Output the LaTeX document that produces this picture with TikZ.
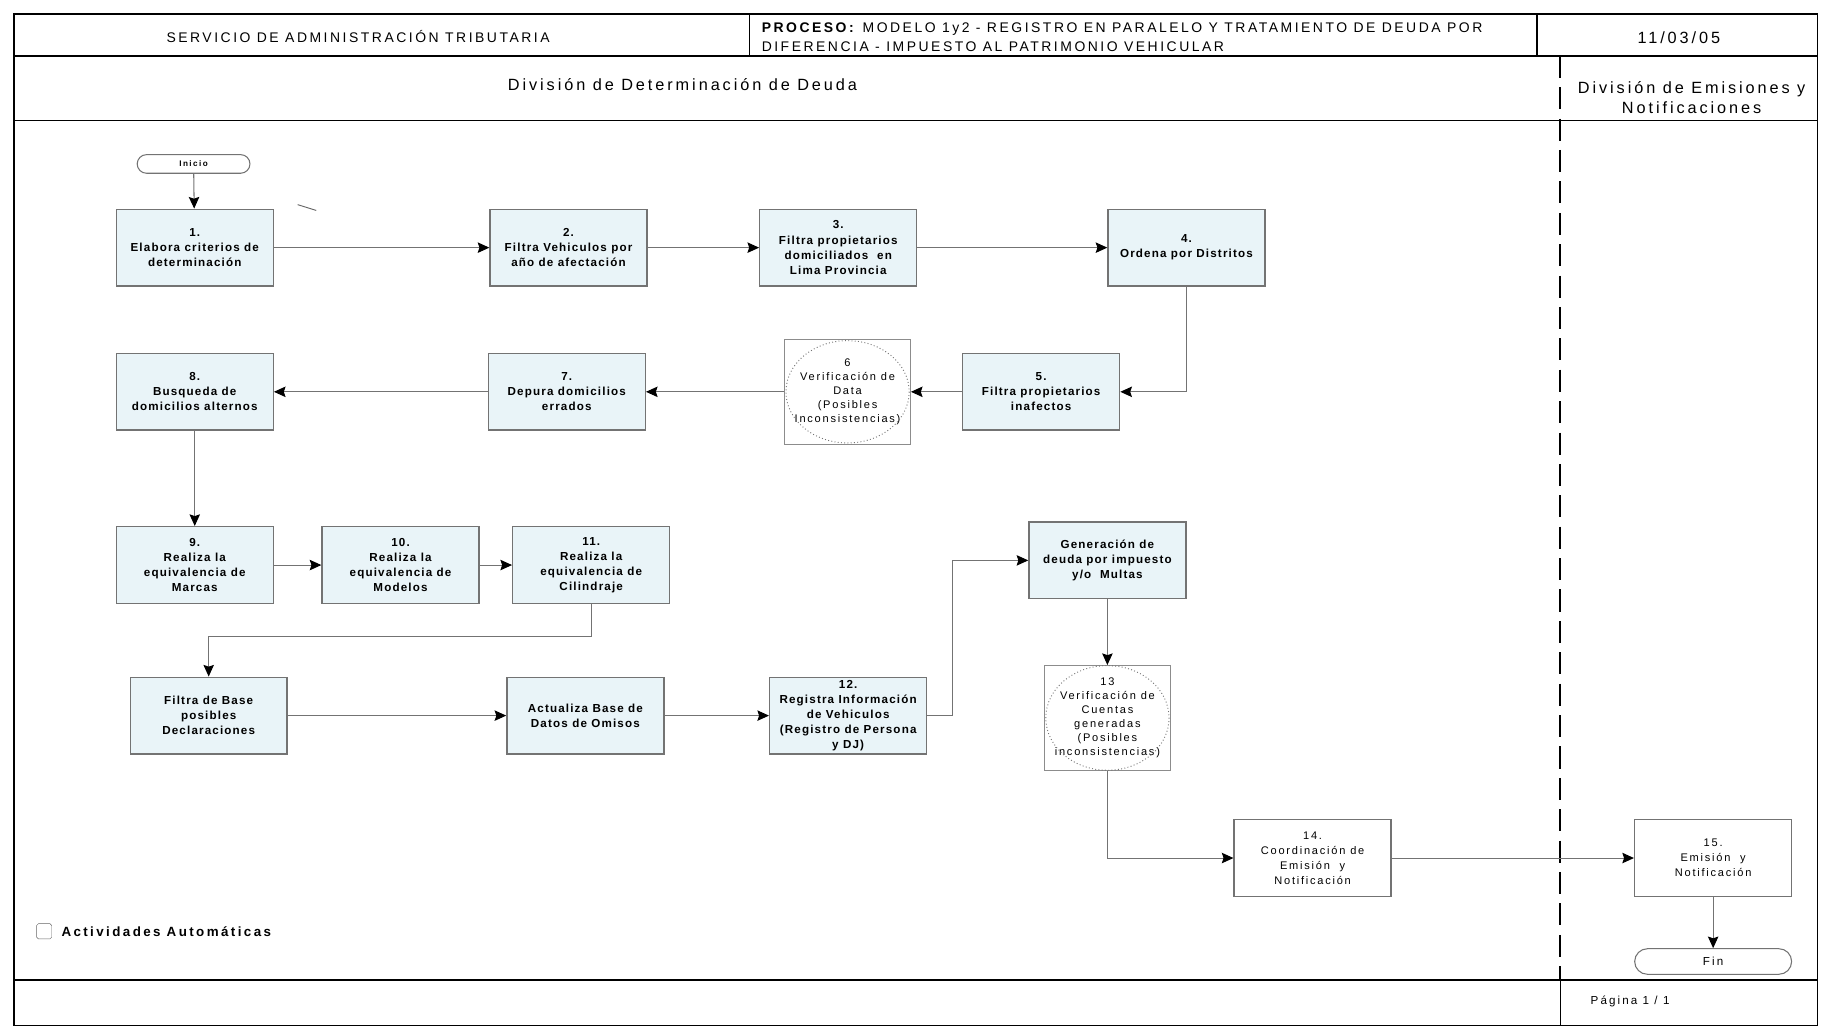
\documentclass[tikz,border=0pt]{standalone}
\usepackage{fontspec}
\setmainfont{Liberation Sans}
\newfontfamily\boxfont[LetterSpace=10]{Liberation Sans}
\newfontfamily\thinfont[LetterSpace=16]{Liberation Sans}
\newfontfamily\frmfont[LetterSpace=18]{Liberation Sans}
\usetikzlibrary{arrows.meta, positioning}
\definecolor{boxfill}{RGB}{233,244,248}
\definecolor{linegray}{RGB}{115,115,115}

\begin{document}
\begin{tikzpicture}[x=1pt, y=-1pt, >={Stealth[length=10pt, width=9pt, inset=1.5pt, color=black]},
	paso/.style={draw=black!55, line width=1.2pt, fill=boxfill, minimum width=135pt, minimum height=66pt,
		inner sep=1pt, align=center, font=\boxfont\bfseries\fontsize{10}{13}\selectfont},
	pasob/.style={paso, fill=white, font=\thinfont\fontsize{9.5}{13}\selectfont},
	verif/.style={draw=black!45, line width=1pt, minimum width=108pt, minimum height=90pt,
		inner sep=1pt, align=center, font=\thinfont\fontsize{9.5}{12}\selectfont},
	term/.style={draw=black!55, line width=0.9pt, fill=white, inner sep=0pt},
	flujo/.style={->, draw=linegray, line width=0.9pt}]
	% page size
	\useasboundingbox (0,0) rectangle (1568,884);
	% frame
	\draw[line width=1.2pt] (12,12) rectangle (1563,882);
	\draw[line width=1.6pt] (12,12.5) -- (1563,12.5);
	\draw[line width=1.8pt] (12,48) -- (1563,48);
	\draw[line width=1pt] (12,104) -- (1563,104);
	\draw[line width=1.2pt] (12,843) -- (1563,843);
	\draw[line width=1pt] (645,12) -- (645,48);
	\draw[line width=1pt] (1322,12) -- (1322,48);
	% lane divider
	\draw[line width=2pt, dash pattern=on 19pt off 8pt] (1342,48) -- (1342,843);
	\draw[line width=0.8pt] (1342,843) -- (1342,882);
	% header texts
	\node[font=\frmfont\fontsize{12}{14}\selectfont, inner sep=0pt] (sat) at (308,31) {SERVICIO DE ADMINISTRACIÓN TRIBUTARIA};
	\node[anchor=west, align=left, inner sep=0pt, font=\frmfont\fontsize{12}{16}\selectfont] (proceso) at (655,32)
		{\textbf{PROCESO:} MODELO 1y2 - REGISTRO EN PARALELO Y TRATAMIENTO DE DEUDA POR\\
		DIFERENCIA - IMPUESTO AL PATRIMONIO VEHICULAR};
	\node[font=\frmfont\fontsize{14}{16}\selectfont, inner sep=0pt] (fecha) at (1444,32) {11/03/05};
	\node[font=\frmfont\fontsize{14}{16}\selectfont, inner sep=0pt] (divDet) at (587,73) {División de Determinación de Deuda};
	\node[align=center, font=\frmfont\fontsize{14}{17}\selectfont, inner sep=0pt] (divEmi) at (1455,84) {División de Emisiones y\\Notificaciones};
	\node[anchor=west, font=\frmfont\fontsize{10}{12}\selectfont, inner sep=0pt] (pagina) at (1368,861) {Página 1 / 1};
	% legend
	\node[draw=black!60, rounded corners=1.5pt, minimum size=13pt, inner sep=0pt] (chk) at (38,801) {};
	\node[right=8pt of chk, inner sep=0pt, font=\frmfont\bfseries\fontsize{11.5}{13}\selectfont] (leyenda) {Actividades Automáticas};
	% start and end
	\node[term, rounded corners=8pt, minimum width=97pt, minimum height=16pt, font=\frmfont\bfseries\fontsize{7}{8}\selectfont] (inicio) at (166.5,141) {Inicio};
	\node[term, rounded corners=11pt, minimum width=135pt, minimum height=22pt, font=\frmfont\fontsize{10}{11}\selectfont] (fin) at (1473.5,827) {Fin};
	% first row
	\node[paso] (P1) at (167.5,213) {1.\\Elabora criterios de\\determinación};
	\node[paso] (P2) at (489,213) {2.\\Filtra Vehiculos por\\año de afectación};
	\node[paso] (P3) at (721,213) {3.\\Filtra propietarios\\domiciliados \ en\\Lima Provincia};
	\node[paso] (P4) at (1020.5,213) {4.\\Ordena por Distritos};
	% second row
	\node[paso] (P5) at (895.5,337) {5.\\Filtra propietarios\\inafectos};
	\node[verif] (P6) at (729,337) {6\\Verificación de\\Data\\(Posibles\\Inconsistencias)};
	\draw[dotted, black!55, line width=0.8pt] (P6.center) ellipse [x radius=53, y radius=44];
	\node[paso] (P7) at (487.5,337) {7.\\Depura domicilios\\errados};
	\node[paso] (P8) at (167.5,337) {8.\\Busqueda de\\domicilios alternos};
	% third row
	\node[paso] (P9) at (167.5,486) {9.\\Realiza la\\equivalencia de\\Marcas};
	\node[paso] (P10) at (344.5,486) {10.\\Realiza la\\equivalencia de\\Modelos};
	\node[paso] (P11) at (508.5,486) {11.\\Realiza la\\equivalencia de\\Cilindraje};
	\node[paso] (gen) at (952.5,482) {Generación de\\deuda por impuesto\\y/o \ Multas};
	% fourth row
	\node[paso] (base) at (179.5,615.5) {Filtra de Base\\posibles\\Declaraciones};
	\node[paso] (omisos) at (503.5,615.5) {Actualiza Base de\\Datos de Omisos};
	\node[paso, font=\boxfont\bfseries\fontsize{10}{12.8}\selectfont] (P12) at (729.5,615.5)
		{12.\\Registra Información\\de Vehiculos\\(Registro de Persona\\y DJ)};
	\node[verif] (P13) at (952.5,617.5) {13\\Verificación de\\Cuentas\\generadas\\(Posibles\\inconsistencias)};
	\draw[dotted, black!55, line width=0.8pt] (P13.center) ellipse [x radius=53, y radius=45];
	% last row
	\node[pasob] (P14) at (1129,738) {14.\\Coordinación de\\Emisión \ y\\Notificación};
	\node[pasob] (P15) at (1473.5,738) {15.\\Emisión \ y\\Notificación};
	% stray stroke
	\draw[black!60, line width=0.8pt] (256,176) -- (272,181);
	% flow
	\draw[flujo] (inicio) -- (P1);
	\draw[flujo] (P1) -- (P2);
	\draw[flujo] (P2) -- (P3);
	\draw[flujo] (P3) -- (P4);
	\draw[flujo] (P4.south) |- (P5.east);
	\draw[flujo] (P5) -- (P6);
	\draw[flujo] (P6) -- (P7);
	\draw[flujo] (P7) -- (P8);
	\draw[flujo] (P8) -- (P9);
	\draw[flujo] (P9) -- (P10);
	\draw[flujo] (P10) -- (P11);
	\draw[flujo] (P11.south) -- ++(0,28) -| (base.north);
	\draw[flujo] (base) -- (omisos);
	\draw[flujo] (omisos) -- (P12);
	\draw[flujo] (P12.east) -- ++(22,0) |- (gen.west);
	\draw[flujo] (gen) -- (P13);
	\draw[flujo] (P13.south) |- (P14.west);
	\draw[flujo] (P14) -- (P15);
	\draw[flujo] (P15) -- (fin);
\end{tikzpicture}
\end{document}
